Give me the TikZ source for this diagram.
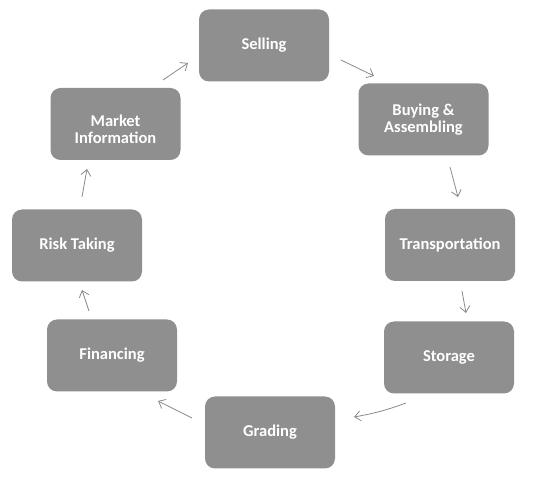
\documentclass[tikz,border=0pt]{standalone}
\usepackage{fontspec}
\setmainfont{Carlito}
\usetikzlibrary{arrows.meta}
\definecolor{boxgray}{HTML}{8F8F8F}
\definecolor{arrgray}{HTML}{8A8A8A}
\tikzset{
  stage/.style={fill=boxgray, draw=none, rounded corners=10pt, minimum width=130pt, minimum height=72pt,
    text=white, font=\bfseries\fontsize{16.5}{17.5}\selectfont, align=center, inner sep=0pt},
  stagetext/.style={text=white, font=\bfseries\fontsize{16.5}{17.5}\selectfont, align=center, inner sep=0pt},
  flow/.style={draw=arrgray, line width=0.8pt, -{Straight Barb[length=6pt, width=10pt, line width=0.8pt]}}
}
\begin{document}
\begin{tikzpicture}[x=1pt, y=-1pt]
\useasboundingbox (0,0) rectangle (550,481);
\node[stage] (sell) at (264,45.5) {Selling};
\node[stage] (buy) at (423.5,119.5) {Buying \&\\Assembling};
\node[stage] (trans) at (450,245) {Transportation};
\node[stage] (stor) at (449,357.5) {Storage};
\node[stage] (grad) at (270,432.5) {Grading};
\node[stage] (fin) at (112,355.5) {Financing};
\node[stage] (risk) at (77,245.5) {Risk Taking};
\node[stage] (mkt) at (115.5,124) {};
\node[stagetext] (mkttext) at ([yshift=-5.5pt]mkt.center) {Market\\Information};
\coordinate (a1s) at (163,80);  \coordinate (a1e) at (188,63);
\coordinate (a2s) at (341,60);  \coordinate (a2e) at (374,76);
\coordinate (a3s) at (450,167); \coordinate (a3e) at (458,197);
\coordinate (a4s) at (462,291); \coordinate (a4e) at (466,313);
\coordinate (a5s) at (406,403); \coordinate (a5e) at (354,417);
\coordinate (a6s) at (192,418); \coordinate (a6e) at (158,401);
\coordinate (a7s) at (89,311);  \coordinate (a7e) at (82,290);
\coordinate (a8s) at (82,197);  \coordinate (a8e) at (87,169);
\draw[flow] (a1s) -- (a1e);
\draw[flow] (a2s) -- (a2e);
\draw[flow] (a3s) -- (a3e);
\draw[flow] (a4s) -- (a4e);
\draw[flow] (a5s) to[bend left=5] (a5e);
\draw[flow] (a6s) -- (a6e);
\draw[flow] (a7s) -- (a7e);
\draw[flow] (a8s) -- (a8e);
\end{tikzpicture}
\end{document}
